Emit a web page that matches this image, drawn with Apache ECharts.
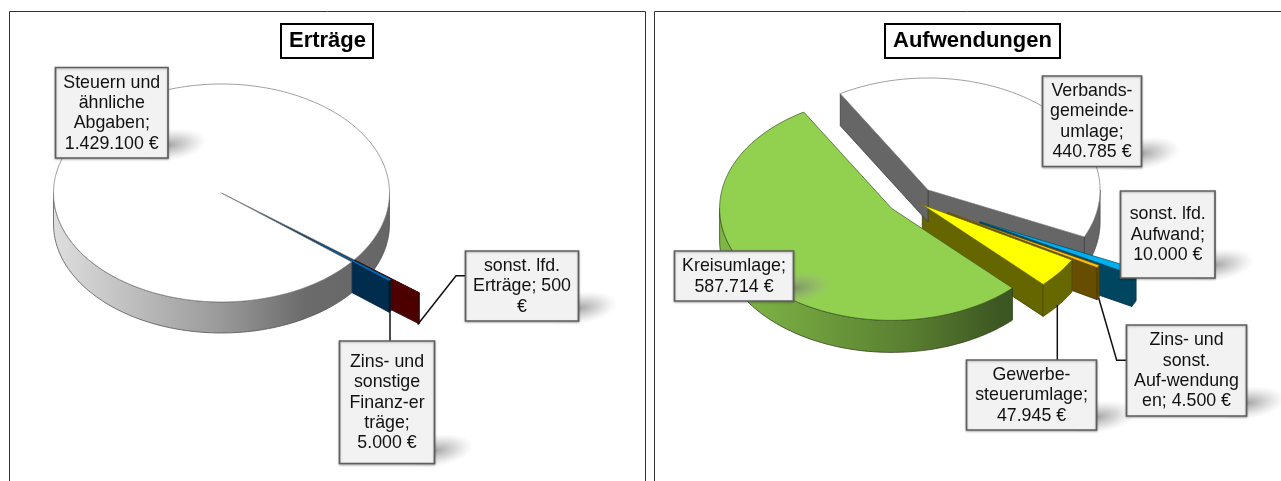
<!DOCTYPE html>
<html><head><meta charset="utf-8">
<style>html,body{margin:0;padding:0;background:#fff}#c{width:1281px;height:481px}</style>
<script src="https://cdn.jsdelivr.net/npm/echarts@6/dist/echarts.min.js"></script>
</head><body><div id="c"></div>
<script>
// ---------- data ----------
var ertraegeCategories = ['Steuern und ähnliche Abgaben', 'sonst. lfd. Erträge', 'Zins- und sonstige Finanzerträge'];
var ertraegeValues = [1429100, 500, 5000];
var ertraegeLabels = ['Steuern und\nähnliche\nAbgaben;\n1.429.100 €', 'sonst. lfd.\nErträge; 500\n€', 'Zins- und\nsonstige\nFinanz-er\nträge;\n5.000 €'];
var aufwandCategories = ['Verbandsgemeindeumlage', 'sonst. lfd. Aufwand', 'Zins- und sonst. Aufwendungen', 'Gewerbesteuerumlage', 'Kreisumlage'];
var aufwandValues = [440785, 10000, 4500, 47945, 587714];
var aufwandLabels = ['Verbands-\ngemeinde-\numlage;\n440.785 €', 'sonst. lfd.\nAufwand;\n10.000 €', 'Zins- und\nsonst.\nAuf-wendung\nen; 4.500 €', 'Gewerbe-\nsteuerumlage;\n47.945 €', 'Kreisumlage;\n587.714 €'];
var titles = ['Erträge', 'Aufwendungen'];

// ---------- layout and style ----------
var pies = [
  {cx:221.5, cy:193, rx:168, ry:109, depth:31, start:39.2, values:ertraegeValues,
   colors:['#ffffff','#c00000','#0070c0'], explode:[0,0.49,0.285], nudge:[[0,0],[0,0],[0,0]], rank:[1,0,0.5], labels:ertraegeLabels,
   boxes:[[55.5,67.5,168,158],[465.5,251,578.5,321],[339.5,341,434.5,463.5]],
   leaders:[null,[[417.7,324.5],[456,275.7],[465.5,275.7]],[[390,280],[390,341]]]},
  {cx:913.7, cy:200.4, rx:172, ry:112, depth:32, start:239.3, values:aufwandValues,
   colors:['#ffffff','#00b0f0','#ffc000','#ffff00','#92d050'], explode:[0.125,0.43,0.224,0.063,0.146], nudge:[[0,0],[0,0],[0,0],[0,0],[-2.2,-2]], rank:[0,1,2,3,4], labels:aufwandLabels,
   boxes:[[1042.5,76,1141.5,166.5],[1120.5,191,1215,278],[1126.5,325,1246.5,416],[966.5,360,1096.5,430],[674.5,251,793.5,301]],
   leaders:[null,null,[[1098.7,298],[1116.7,360.3],[1126.5,360.3]],[[1057.3,305],[1057.3,360]],null]}
];
var rimShade = [[-1,0.87],[0,0.6],[0.5,0.42],[1,0.4]];

function shade(hex,f){
  var n=parseInt(hex.slice(1),16);
  var c=[(n>>16)&255,(n>>8)&255,n&255].map(function(v){return Math.round(v*f);});
  return 'rgb('+c.join(',')+')';
}
function toRad(a){return a*Math.PI/180;}

// build every face from the values: wedge angles, then projection onto the tilted disc
var faces=[];
pies.forEach(function(p){
  var total=p.values.reduce(function(s,v){return s+v;},0), a=p.start;
  p.values.forEach(function(v,i){
    var a0=a, a1=a+v/total*360; a=a1;
    var mid=toRad((a0+a1)/2), e=p.explode[i];
    var ox=p.cx+p.rx*e*Math.cos(mid)+p.nudge[i][0], oy=p.cy+p.ry*e*Math.sin(mid)+p.nudge[i][1];
    function pt(d){return [ox+p.rx*Math.cos(toRad(d)),oy+p.ry*Math.sin(toRad(d))];}
    function arc(b0,b1){var o=[],n=Math.max(2,Math.ceil((b1-b0)/1.5));for(var k=0;k<=n;k++)o.push(pt(b0+(b1-b0)*k/n));return o;}
    var col=p.colors[i], order=p.rank[i]*10+1;
    function push(points,fill,stroke,ord){faces.push({points:points,fill:fill,stroke:stroke,order:ord});}
    function down(q){return [q[0],q[1]+p.depth];}
    var wallCol=shade(col,0.4), wallEdge=shade(col,0.22);
    // straight cut walls that face the viewer
    if(Math.cos(toRad(a0))<0){var s=pt(a0);push([[ox,oy],s,down(s),[ox,oy+p.depth]],wallCol,wallEdge,order);}
    if(Math.cos(toRad(a1))>0){var t=pt(a1);push([[ox,oy],t,down(t),[ox,oy+p.depth]],wallCol,wallEdge,a1>360?-5:order);}
    // outer rim
    var grad={type:'linear',global:true,x:p.cx-p.rx,y:0,x2:p.cx+p.rx,y2:0,
      colorStops:rimShade.map(function(r){return {offset:(r[0]+1)/2,color:shade(col,r[1])};})};
    [[0,180],[360,540]].forEach(function(w){
      var b0=Math.max(a0,w[0]),b1=Math.min(a1,w[1]);
      if(b1>b0){var top=arc(b0,b1);push(top.concat(top.map(down).reverse()),grad,shade(col,0.3),w[0]===360&&a0<360?-6:order+1);}
    });
    // top
    push([[ox,oy]].concat(arc(a0,a1)),col,shade(col,i===0&&col==='#ffffff'?0.5:0.45),order+2);
  });
});
faces.sort(function(x,y){return x.order-y.order;});

// labels, their soft shadows, leader lines, frames
var graphics=[];
var frame=function(pts){graphics.push({type:'polyline',silent:true,z:1,shape:{points:pts},style:{fill:null,stroke:'#333',lineWidth:1}});};
frame([[9.5,481],[9.5,11.5],[645.5,11.5],[645.5,481]]);
frame([[654.5,481],[654.5,11.5],[1281,11.5]]);
pies.forEach(function(p){
  p.boxes.forEach(function(b,i){
    graphics.push({type:'circle',silent:true,z:10,x:b[2]+1,y:b[3]-13,scaleX:2.4,scaleY:1,rotation:0.14,shape:{cx:0,cy:0,r:16},
      style:{fill:{type:'radial',x:0.5,y:0.5,r:0.5,colorStops:[{offset:0,color:'rgba(110,110,110,0.62)'},{offset:0.5,color:'rgba(140,140,140,0.34)'},{offset:1,color:'rgba(180,180,180,0)'}]}}});
    if(p.leaders[i])graphics.push({type:'polyline',silent:true,z:11,shape:{points:p.leaders[i]},style:{fill:null,stroke:'#111',lineWidth:1.5}});
    graphics.push({type:'rect',silent:true,z:12,shape:{x:b[0],y:b[1],width:b[2]-b[0],height:b[3]-b[1]},
      style:{fill:'#f2f2f2',stroke:'#5f5f5f',lineWidth:1.7,shadowBlur:2,shadowColor:'rgba(0,0,0,0.25)',shadowOffsetY:1}});
    graphics.push({type:'text',silent:true,z:13,x:(b[0]+b[2])/2,y:(b[1]+b[3])/2+0.5,
      style:{text:p.labels[i],align:'center',verticalAlign:'middle',fill:'#111',fontFamily:'Liberation Sans',fontSize:17.8,lineHeight:20.4}});
  });
});

var chart=echarts.init(document.getElementById('c'),null,{renderer:'canvas'});
var titleStyle={fontFamily:'Liberation Sans',fontWeight:'bold',fontSize:22,color:'#000',lineHeight:24};
chart.setOption({
  animation:false,
  backgroundColor:'#fff',
  title:[
    {text:titles[0],left:281,top:24,padding:[5,7,5,8],borderColor:'#000',borderWidth:2,backgroundColor:'#fff',textStyle:titleStyle,z:9},
    {text:titles[1],left:885,top:24,padding:[5,8,5,8],borderColor:'#000',borderWidth:2,backgroundColor:'#fff',textStyle:titleStyle,z:9}
  ],
  graphic:{elements:graphics},
  series:[{
    type:'custom',coordinateSystem:'none',silent:true,z:2,
    data:faces.map(function(f,i){return i;}),
    renderItem:function(params){
      var f=faces[params.dataIndex];
      return {type:'polygon',shape:{points:f.points},style:{fill:f.fill,stroke:f.stroke,lineWidth:0.75}};
    }
  }]
});
</script></body></html>
